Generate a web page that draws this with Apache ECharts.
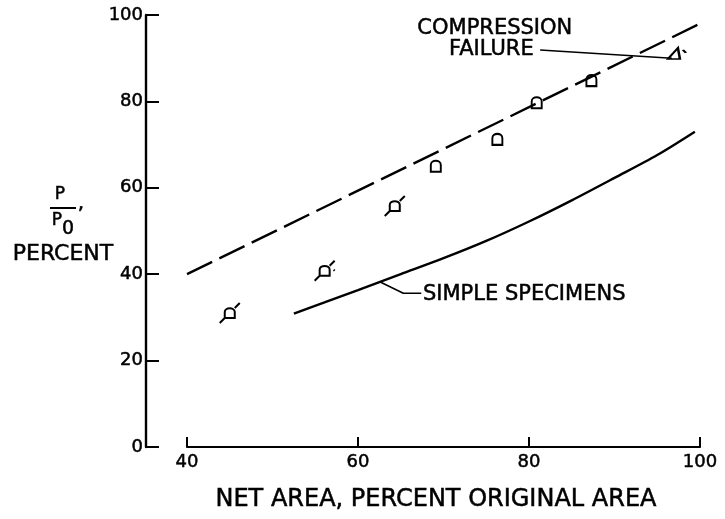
<!DOCTYPE html>
<html><head><meta charset="utf-8">
<script src="https://cdn.jsdelivr.net/npm/echarts@6/dist/echarts.min.js"></script>
<style>html,body{margin:0;padding:0;background:#fff}#c{width:725px;height:519px}</style>
</head><body><div id="c"></div>
<script>
// ---- data ----
const xTickValues = [40, 60, 80, 100];
const yTickValues = [0, 20, 40, 60, 80, 100];
const testArea = [45.0, 56.1, 64.3, 69.1, 76.3, 80.9, 87.3, 97.3];
const testLoad = [31.0, 40.8, 55.8, 65.0, 71.2, 79.7, 84.8, 91.1];
const testKind = ['slash', 'slashdot', 'slash', 'plain', 'plain', 'plain', 'plain', 'compression'];
const dashedArea = [40, 100];
const dashedLoad = [40, 98];
const simpleArea = [52.5, 56, 60, 65, 70, 75, 80, 85, 90, 95, 99.4];
const simpleLoad = [30.9, 33.4, 36.3, 40.0, 43.7, 47.7, 52.2, 57.1, 62.3, 67.6, 73.0];
const xTitle = 'NET AREA, PERCENT ORIGINAL AREA';
const simpleLabel = 'SIMPLE SPECIMENS';
const compLabel1 = 'COMPRESSION';
const compLabel2 = 'FAILURE';
// annotation anchors (data coordinates)
const simpleLeader = [[62.6, 38.2], [65.3, 35.6], [67.4, 35.6]];
const simpleTextAt = [67.6, 35.4];
const compLeader = [[81.3, 91.9], [96.7, 90.0]];
const comp1At = [76.0, 96.8];
const comp2At = [75.6, 92.1];

const FONT = 'DejaVu Sans';
const symbols = {
  slash: { path: 'path://M-5,5 L-5,-1 C-5,-6 5,-6 5,-1 L5,5 Z M-10,10 L-5,5 M5,-5 L10,-10', size: [20, 20] },
  slashdot: { path: 'path://M-5,5 L-5,-1 C-5,-6 5,-6 5,-1 L5,5 Z M-10,10 L-5,5 M5,-5 L10,-10 M9,-1 L10,0', size: [20, 20] },
  plain: { path: 'path://M-5,5 L-5,-1 C-5,-6 5,-6 5,-1 L5,5 Z', size: [10, 11] },
  compression: { path: 'path://M-6,5 L6,5 L4,-6 Z M9,-4 L12,-1', size: [18, 11] }
};

const scatterData = testArea.map((x, i) => ({
  value: [x, testLoad[i]],
  symbol: symbols[testKind[i]].path,
  symbolSize: symbols[testKind[i]].size
}));

const thick = { textBorderColor: '#000', textBorderWidth: 0.5 };
const chart = echarts.init(document.getElementById('c'), null, { renderer: 'canvas' });
chart.setOption({
  animation: false,
  backgroundColor: '#fff',
  grid: { left: 187, right: 25, top: 15, bottom: 72, outerBoundsMode: 'none' },
  xAxis: {
    type: 'value', min: xTickValues[0], max: xTickValues[xTickValues.length - 1], interval: 20,
    axisLine: { lineStyle: { color: '#000', width: 2.2 } },
    axisTick: { inside: true, length: 10, lineStyle: { color: '#000', width: 2 } },
    axisLabel: Object.assign({ color: '#000', fontSize: 18, fontFamily: FONT, margin: 6 }, thick),
    splitLine: { show: false }
  },
  yAxis: {
    type: 'value', min: yTickValues[0], max: yTickValues[yTickValues.length - 1], interval: 20,
    offset: 41,
    axisLine: { show: true, lineStyle: { color: '#000', width: 2.4 } },
    axisTick: { show: true, inside: true, length: 13, lineStyle: { color: '#000', width: 2 } },
    axisLabel: Object.assign({ color: '#000', fontSize: 18, fontFamily: FONT, margin: 3, padding: [6, 0, 0, 0] }, thick),
    splitLine: { show: false }
  },
  series: [
    {
      type: 'line', data: dashedArea.map((x, i) => [x, dashedLoad[i]]),
      showSymbol: false, lineStyle: { color: '#000', width: 2.4, type: [28, 8] }, silent: true
    },
    {
      type: 'line', data: simpleArea.map((x, i) => [x, simpleLoad[i]]),
      showSymbol: false, smooth: 0.3,
      lineStyle: { color: '#000', width: 2.4 }, silent: true
    },
    {
      type: 'scatter', data: scatterData,
      itemStyle: { color: 'rgba(0,0,0,0)', borderColor: '#000', borderWidth: 2, opacity: 1 }
    },
    {
      type: 'line', data: simpleLeader, showSymbol: false,
      lineStyle: { color: '#000', width: 1.6 }, silent: true
    },
    {
      type: 'line', data: compLeader, showSymbol: false,
      lineStyle: { color: '#000', width: 1.5 }, silent: true
    }
  ]
});

const px = p => chart.convertToPixel({ gridIndex: 0 }, p);
const ts = Object.assign({ fill: '#000', fontFamily: FONT, stroke: '#000', lineWidth: 0.5 });
const mk = (text, x, y, size, align) => ({
  type: 'text', x: x, y: y,
  style: Object.assign({ text: text, fontSize: size, align: align, verticalAlign: 'middle' }, ts)
});
const sAt = px(simpleTextAt), c1 = px(comp1At), c2 = px(comp2At);
chart.setOption({
  graphic: [
    mk(xTitle, 436, 500, 24, 'center'),
    mk(simpleLabel, sAt[0], sAt[1], 21, 'left'),
    mk(compLabel1, c1[0], c1[1], 21, 'center'),
    mk(compLabel2, c2[0], c2[1], 21, 'center'),
    // y-axis name: P / P0, PERCENT
    mk('P', 60, 195, 17, 'center'),
    { type: 'line', shape: { x1: 50, y1: 208, x2: 76, y2: 208 }, style: { stroke: '#000', lineWidth: 2 } },
    mk('P', 57, 221, 17, 'center'),
    mk('0', 68, 229, 19, 'center'),
    mk(',', 81, 204, 20, 'center'),
    mk('PERCENT', 63, 254, 22, 'center')
  ]
});
</script>
</body></html>
